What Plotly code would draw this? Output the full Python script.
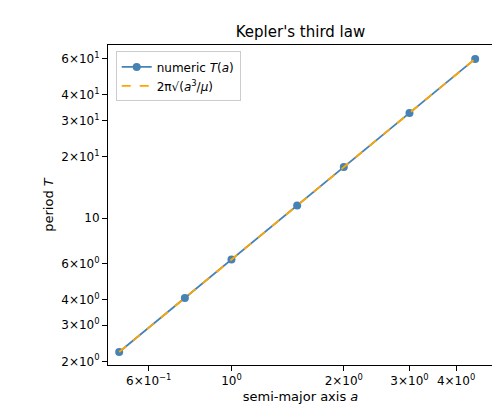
import plotly.graph_objects as go

a_vals = [0.5, 0.75, 1.0, 1.5, 2.0, 3.0, 4.5]
T_numeric = [2.22, 4.08, 6.28, 11.54, 17.77, 32.65, 59.98]
T_analytic = [2.22, 4.08, 6.28, 11.54, 17.77, 32.65, 59.98]

x_tickvals = [0.6, 1, 2, 3, 4]
x_ticktext = ["6×10<sup>−1</sup>", "10<sup>0</sup>", "2×10<sup>0</sup>", "3×10<sup>0</sup>", "4×10<sup>0</sup>"]
y_tickvals = [2, 3, 4, 6, 10, 20, 30, 40, 60]
y_ticktext = ["2×10<sup>0</sup>", "3×10<sup>0</sup>", "4×10<sup>0</sup>", "6×10<sup>0</sup>", "10",
              "2×10<sup>1</sup>", "3×10<sup>1</sup>", "4×10<sup>1</sup>", "6×10<sup>1</sup>"]

fig = go.Figure()
fig.add_trace(go.Scatter(x=a_vals, y=T_numeric, mode="lines+markers",
                         name="numeric <i>T</i>(<i>a</i>)",
                         line=dict(color="#4682b4", width=1.8),
                         marker=dict(size=8, color="#4682b4")))
fig.add_trace(go.Scatter(x=a_vals, y=T_analytic, mode="lines",
                         name="2π√(<i>a</i><sup>3</sup>/<i>μ</i>)",
                         line=dict(color="orange", width=1.8, dash="dash")))

axis_common = dict(type="log", showgrid=False, showline=True, linecolor="black", mirror=True,
                   ticks="outside", tickcolor="black", tickfont=dict(size=12, color="black"),
                   zeroline=False, automargin=False)
fig.update_xaxes(**axis_common, range=[-0.331, 0.701], tickvals=x_tickvals, ticktext=x_ticktext,
                 title=dict(text="semi-major axis <i>a</i>", font=dict(size=13), standoff=4))
fig.update_yaxes(**axis_common, range=[0.283, 1.846], tickvals=y_tickvals, ticktext=y_ticktext,
                 title=dict(text="period <i>T</i>", font=dict(size=13), standoff=4))
fig.update_layout(
    width=500, height=420, plot_bgcolor="white", paper_bgcolor="white",
    margin=dict(l=100, r=15, t=37, b=63, autoexpand=False),
    font=dict(family="DejaVu Sans", color="black"),
    title=dict(text="Kepler's third law", x=0.585, xanchor="center", y=0.955, font=dict(size=15)),
    legend=dict(x=0.02, y=0.98, xanchor="left", yanchor="top", bordercolor="#cccccc",
                borderwidth=1, bgcolor="white", font=dict(size=12)),
)
fig.write_html("out.html")
